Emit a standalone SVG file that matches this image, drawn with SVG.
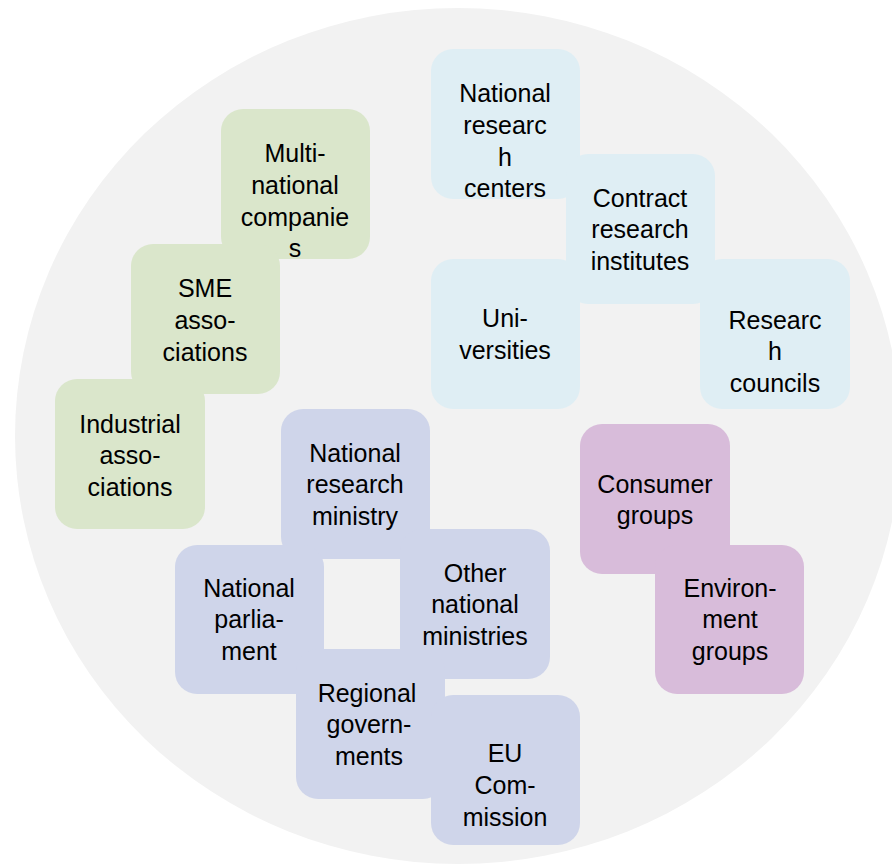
<svg xmlns="http://www.w3.org/2000/svg" width="892" height="866" viewBox="0 0 892 866">
<style>
.g{fill:#DAE6CB}
.b{fill:#DFEEF4}
.l{fill:#CFD5EA}
.p{fill:#D8BCDA}
text{font-family:"Liberation Sans",Arial,sans-serif;font-size:25px;fill:#000;text-anchor:middle}
</style>
<rect width="892" height="866" fill="#fff"/>
<ellipse id="bg" cx="458" cy="436" rx="443" ry="428" fill="#F2F2F2"/>
<g id="connectors"/>
<g id="multi"><rect class="g" x="221" y="109" width="149" height="150" rx="22"/></g>
<g id="sme"><rect class="g" x="131" y="244" width="149" height="150" rx="22"/></g>
<g id="industrial"><rect class="g" x="55" y="379" width="150" height="150" rx="22"/></g>
<g id="nrc"><rect class="b" x="431" y="49" width="149" height="150" rx="22"/></g>
<g id="univ"><rect class="b" x="431" y="259" width="149" height="150" rx="22"/></g>
<g id="rcouncils"><rect class="b" x="700" y="259" width="150" height="150" rx="22"/></g>
<g id="contract"><rect class="b" x="566" y="154" width="149" height="150" rx="22"/></g>
<g id="ministry"><rect class="l" x="281" y="409" width="149" height="150" rx="22"/></g>
<g id="other"><rect class="l" x="400" y="529" width="150" height="150" rx="22"/></g>
<g id="parliament"><rect class="l" x="175" y="545" width="149" height="149" rx="22"/></g>
<g id="regional"><rect class="l" x="296" y="649" width="149" height="150" rx="22"/></g>
<g id="eu"><rect class="l" x="431" y="695" width="149" height="150" rx="22"/></g>
<g id="consumer"><rect class="p" x="580" y="424" width="150" height="150" rx="22"/></g>
<g id="environment"><rect class="p" x="655" y="545" width="149" height="149" rx="22"/></g>
<g id="labels">
<text x="295" y="162">Multi-</text><text x="295" y="194">national</text><text x="295" y="226">companie</text><text x="295" y="257">s</text>
<text x="205" y="297">SME</text><text x="205" y="329">asso-</text><text x="205" y="361">ciations</text>
<text x="130" y="433">Industrial</text><text x="130" y="464">asso-</text><text x="130" y="496">ciations</text>
<text x="505" y="102">National</text><text x="505" y="134">researc</text><text x="505" y="166">h</text><text x="505" y="197">centers</text>
<text x="640" y="207">Contract</text><text x="640" y="238">research</text><text x="640" y="270">institutes</text>
<text x="505" y="327">Uni-</text><text x="505" y="359">versities</text>
<text x="775" y="329">Researc</text><text x="775" y="360">h</text><text x="775" y="392">councils</text>
<text x="355" y="462">National</text><text x="355" y="493">research</text><text x="355" y="525">ministry</text>
<text x="655" y="493">Consumer</text><text x="655" y="524">groups</text>
<text x="249" y="597">National</text><text x="249" y="628">parlia-</text><text x="249" y="660">ment</text>
<text x="475" y="582">Other</text><text x="475" y="613">national</text><text x="475" y="645">ministries</text>
<text x="730" y="597">Environ-</text><text x="730" y="628">ment</text><text x="730" y="660">groups</text>
<text x="367" y="702">Regional</text><text x="369" y="733">govern-</text><text x="369" y="765">ments</text>
<text x="505" y="762">EU</text><text x="505" y="794">Com-</text><text x="505" y="826">mission</text>
</g>
</svg>
